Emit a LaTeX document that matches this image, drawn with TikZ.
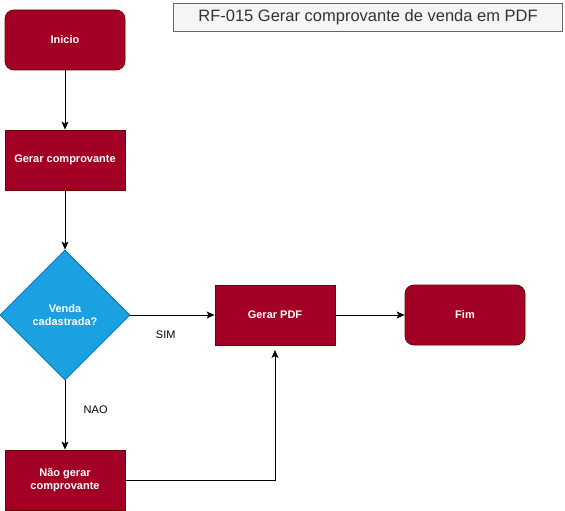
\documentclass[tikz,border=0pt]{standalone}
\usepackage{fontspec}
\setmainfont{Liberation Sans}
\usetikzlibrary{shapes.geometric,arrows.meta}
\definecolor{boxred}{HTML}{A20025}
\definecolor{boxredline}{HTML}{6F0000}
\definecolor{decblue}{HTML}{1BA1E2}
\definecolor{decblueline}{HTML}{006EAF}
\definecolor{titlefill}{HTML}{F5F5F5}
\definecolor{titleline}{HTML}{666666}
\definecolor{titletext}{HTML}{333333}
\tikzset{
  procbox/.style={draw=boxredline, fill=boxred, text=white, minimum width=120pt, minimum height=60pt, inner sep=2pt, align=center, font=\fontsize{11}{13}\selectfont\bfseries, line width=0.8pt},
  termbox/.style={procbox, rounded corners=9pt},
  decbox/.style={draw=decblueline, fill=decblue, text=white, diamond, aspect=1, minimum width=130pt, minimum height=130pt, inner sep=0pt, align=center, font=\fontsize{11}{13}\selectfont\bfseries, line width=0.8pt},
  conn/.style={draw=black, line width=0.8pt, -{Stealth[length=8pt,width=7pt,inset=2pt]}},
  lbl/.style={font=\fontsize{11}{13}\selectfont, text=black},
  titlebox/.style={draw=titleline, fill=titlefill, text=titletext, font=\fontsize{16.5}{19}\selectfont, minimum width=389pt, minimum height=28pt, inner sep=0pt, line width=0.8pt}
}
\begin{document}
\begin{tikzpicture}[x=1pt,y=-1pt]
\useasboundingbox (0,0) rectangle (565,511);
\node[titlebox] (title) at (368,17) {RF-015 Gerar comprovante de venda em PDF};
\node[termbox] (inicio) at (65,40) {Inicio};
\node[procbox] (gerarc) at (65,160) {Gerar comprovante};
\node[decbox] (venda) at (65,315) {Venda\\cadastrada?};
\node[procbox] (pdf) at (275,315) {Gerar PDF};
\node[termbox] (fim) at (465,315) {Fim};
\node[procbox] (naog) at (65,480) {Não gerar\\comprovante};
\coordinate (pdfin) at (275,350);
\draw[conn] (inicio) -- (gerarc);
\draw[conn] (gerarc) -- (venda);
\draw[conn] (venda) -- node[lbl, pos=0.42, below=12pt] (sim) {SIM} (pdf);
\draw[conn] (pdf) -- (fim);
\draw[conn] (venda) -- node[lbl, pos=0.43, right=15pt] (nao) {NAO} (naog);
\draw[conn] (naog.east) -| (pdfin);
\end{tikzpicture}
\end{document}
